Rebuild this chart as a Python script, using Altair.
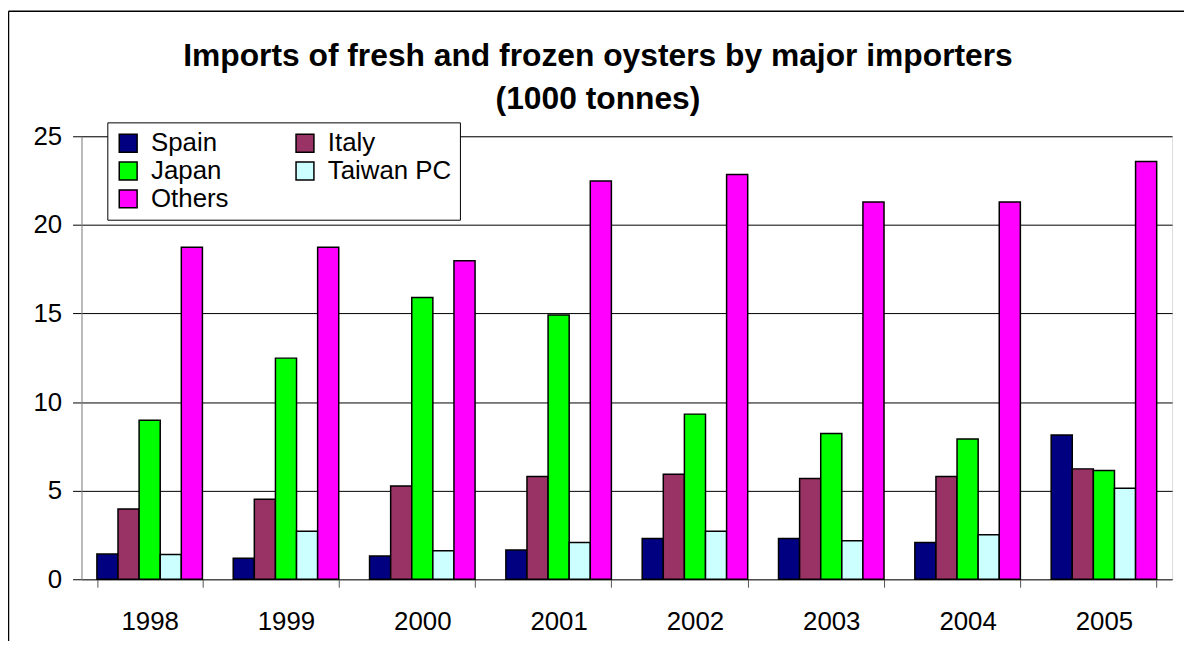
import altair as alt
import pandas as pd

years = ["1998", "1999", "2000", "2001", "2002", "2003", "2004", "2005"]
countries = ["Spain", "Italy", "Japan", "Taiwan PC", "Others"]
colors = ["#000080", "#993366", "#00FF00", "#CCFFFF", "#FF00FF"]

spain = [1.42, 1.18, 1.31, 1.65, 2.30, 2.30, 2.08, 8.14]
italy = [3.97, 4.51, 5.26, 5.80, 5.93, 5.69, 5.80, 6.23]
japan = [8.98, 12.48, 15.90, 14.91, 9.32, 8.23, 7.91, 6.14]
taiwan = [1.40, 2.71, 1.61, 2.08, 2.71, 2.17, 2.51, 5.14]
others = [18.74, 18.74, 17.98, 22.48, 22.84, 21.29, 21.29, 23.57]

series = dict(zip(countries, [spain, italy, japan, taiwan, others]))
rows = []
for c in countries:
    for y, v in zip(years, series[c]):
        rows.append({"year": y, "country": c, "value": v})
df = pd.DataFrame(rows)

FONT = "Liberation Sans"

bars = alt.Chart(df).mark_bar(stroke="black", strokeWidth=1.5).encode(
    x=alt.X("year:N", sort=years,
            scale=alt.Scale(paddingInner=0.226, paddingOuter=0.113),
            axis=alt.Axis(title=None, labelAngle=0, tickBand="extent",
                          tickSize=8, tickColor="#555", domainColor="#555",
                          labelPadding=22, labelFontSize=26, labelFont=FONT,
                          labelColor="black", grid=False)),
    xOffset=alt.XOffset("country:N", sort=countries,
                        scale=alt.Scale(paddingInner=0, paddingOuter=0)),
    y=alt.Y("value:Q",
            scale=alt.Scale(domain=[0, 25], nice=False),
            axis=alt.Axis(title=None, values=[0, 5, 10, 15, 20, 25],
                          grid=True, gridColor="black", gridWidth=1,
                          tickSize=9, tickColor="black", domainColor="#888",
                          labelPadding=11, labelFontSize=26, labelFont=FONT,
                          labelColor="black")),
    color=alt.Color("country:N", sort=countries,
                    scale=alt.Scale(domain=countries, range=colors),
                    legend=alt.Legend(title=None, orient="none", legendX=26, legendY=-14,
                                      direction="horizontal",
                                      columns=2, columnPadding=63, rowPadding=2,
                                      symbolType="square", symbolSize=324,
                                      symbolStrokeColor="black", symbolStrokeWidth=1.5,
                                      symbolOpacity=1,
                                      labelFontSize=26, labelFont=FONT, labelColor="black",
                                      labelOffset=10, labelLimit=300,
                                      fillColor="white", strokeColor="black",
                                      padding=8)),
)

one = pd.DataFrame({"a": [0]})
frame_top = alt.Chart(one).mark_rule(stroke="black", strokeWidth=1.5).encode(
    x=alt.value(-73.5), x2=alt.value(1110), y=alt.value(-126),
)
frame_left = alt.Chart(one).mark_rule(stroke="black", strokeWidth=1.5).encode(
    x=alt.value(-73.5), y=alt.value(-126), y2=alt.value(520),
)

chart = alt.layer(frame_top, frame_left, bars).properties(
    width=1098, height=446,
    autosize=alt.AutoSizeParams(type="none"),
    padding={"left": 74, "top": 127, "right": 12, "bottom": 60},
    title=alt.Title(
        ["Imports of fresh and frozen oysters by major importers", "(1000 tonnes)"],
        fontSize=32, font=FONT, fontWeight="bold", color="black",
        anchor="middle", dx=-29, lineHeight=43, offset=-106,
    ),
).configure_view(stroke=None).configure(background="white")

chart.save("out.html", embed_options={"renderer": "svg", "actions": False})
